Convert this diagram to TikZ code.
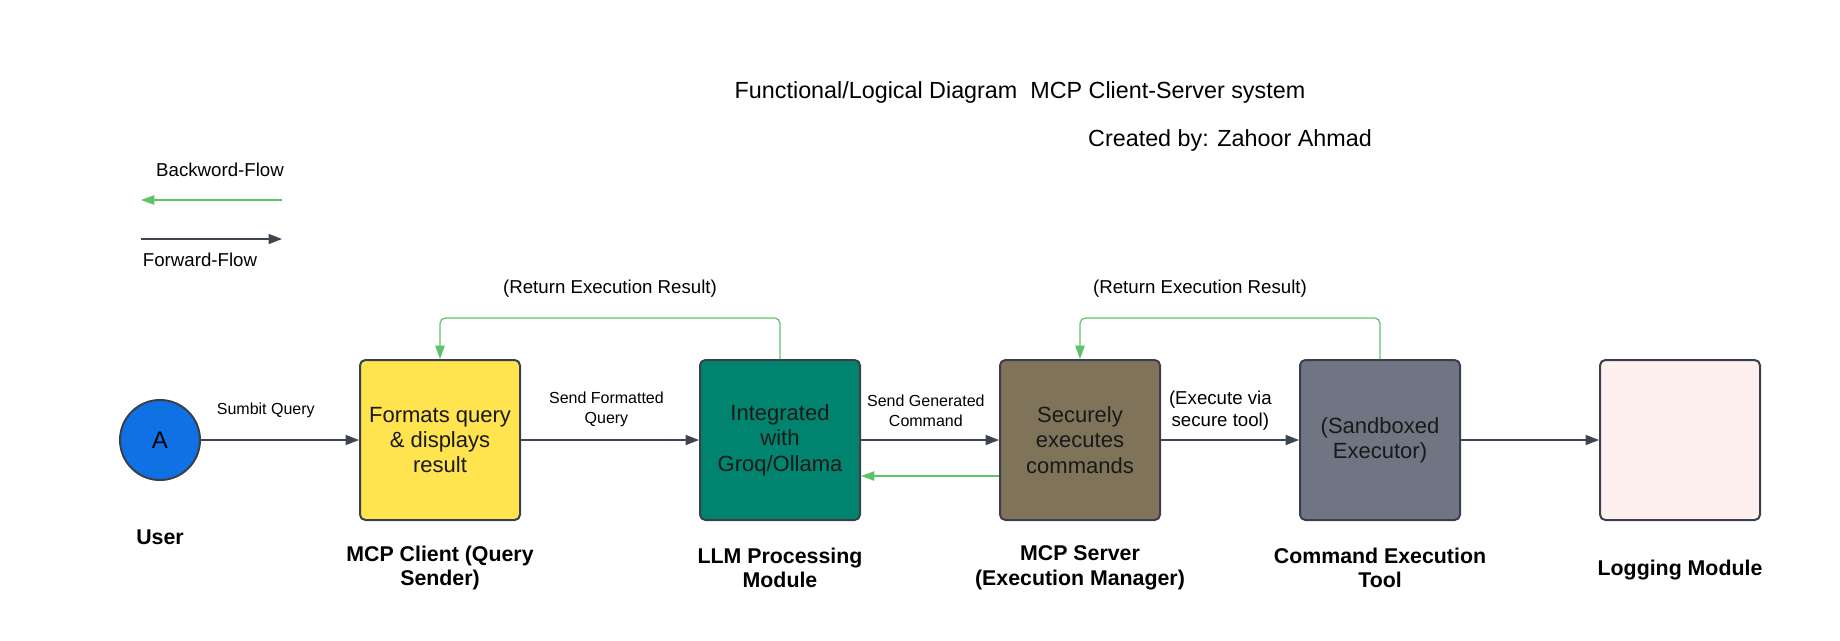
\documentclass[tikz,border=0pt]{standalone}
\usepackage{fontspec}
\setmainfont{Liberation Sans}
\usetikzlibrary{arrows.meta,positioning}

\definecolor{userblue}{HTML}{1071E5}
\definecolor{clientyellow}{HTML}{FFE34F}
\definecolor{llmteal}{HTML}{00836F}
\definecolor{serverbrown}{HTML}{7F7359}
\definecolor{toolgray}{HTML}{6F7582}
\definecolor{logpink}{HTML}{FEF0EE}
\definecolor{bordergray}{HTML}{3A3F4A}
\definecolor{linegray}{HTML}{3F4451}
\definecolor{flowgreen}{HTML}{5CC468}

\begin{document}
\begin{tikzpicture}[x=1pt, y=1pt, node distance=225pt]
    \tikzstyle{arrow} = [line width=1.1pt, draw=linegray, -{Triangle[length=10pt, width=7.5pt]}]
    \tikzstyle{back} = [line width=0.9pt, draw=flowgreen, rounded corners=4pt, -{Triangle[length=10pt, width=7pt]}]
    \tikzstyle{block} = [rectangle, rounded corners=4pt, minimum width=120pt, minimum height=120pt, align=center, draw=bordergray, line width=1.5pt, text=black!90, font=\fontsize{16.5}{19}\selectfont]
    \tikzstyle{boxname} = [align=center, font=\bfseries\fontsize{16}{18.5}\selectfont]
    \tikzstyle{edgetext} = [align=center, font=\fontsize{12}{14.5}\selectfont]
    \tikzstyle{note} = [align=center, font=\fontsize{14}{16}\selectfont]
    \useasboundingbox (0,0) rectangle (1380,-480);

    \node[font=\fontsize{17.5}{20}\selectfont] at (765,-69)(T){Functional/Logical Diagram\ \ MCP Client-Server system};
    \node[font=\fontsize{17.5}{20}\selectfont] at (922.5,-105)(By){Created by: Zahoor Ahmad};

    \node[note] at (165,-127.5)(Bk){Backword-Flow};
    \coordinate (bs) at (211.5,-150);
    \coordinate (be) at (105.75,-150);
    \coordinate (fs) at (105.75,-179.25);
    \coordinate (fe) at (211.5,-179.25);
    \node[note] at (150,-195)(Fw){Forward-Flow};

    \node[circle, minimum size=60pt, fill=userblue, draw=bordergray, line width=1.5pt, font=\fontsize{18}{20}\selectfont] at (120,-330)(A){A};
    \node[block, fill=clientyellow, right of = A, xshift = -15pt](C){Formats query\\ \& displays\\ result};
    \node[block, fill=llmteal, right of = C, xshift = 30pt](L){Integrated\\ with\\ Groq/Ollama};
    \node[block, fill=serverbrown, right of = L](S){Securely\\ executes\\ commands};
    \node[block, fill=toolgray, right of = S](X){(Sandboxed\\ Executor)};
    \node[block, fill=logpink, right of = X](G){};

    \node[boxname, below of = A, node distance = 73pt](An){User};
    \node[boxname, below of = C, node distance = 96pt](Cn){MCP Client (Query\\ Sender)};
    \node[boxname, below of = L, node distance = 96pt](Ln){LLM Processing\\ Module};
    \node[boxname, below of = S, node distance = 96pt](Sn){MCP Server\\ (Execution Manager)};
    \node[boxname, below of = X, node distance = 96pt](Xn){Command Execution\\ Tool};
    \node[boxname, below of = G, node distance = 97.5pt](Gn){Logging Module};

    \draw[back] (bs)--(be);
    \draw[arrow] (fs)--(fe);

    \draw[arrow] (A)--node[edgetext, pos=0.41, yshift=22.5pt]{Sumbit Query}(C);
    \draw[arrow] (C)--node[edgetext, pos=0.48, yshift=23pt]{Send Formatted\\ Query}(L);
    \draw[arrow] (L)--node[edgetext, pos=0.47, yshift=22pt]{Send Generated\\ Command}(S);
    \draw[arrow] (S)--node[note, pos=0.43, yshift=22pt]{(Execute via\\ secure tool)}(X);
    \draw[arrow] (X)--(G);

    \draw[back] ([yshift=-27pt]S.west)--([yshift=-27pt]L.east);
    \draw[back] (L.north)--++(0,30.75) -| node[note, pos=0.25, yshift=21.75pt]{(Return Execution Result)}(C.north);
    \draw[back] (X.north)--++(0,30.75) -| node[note, pos=0.25, yshift=21.75pt, xshift=-22.5pt]{(Return Execution Result)}(S.north);

    \end{tikzpicture}
\end{document}
